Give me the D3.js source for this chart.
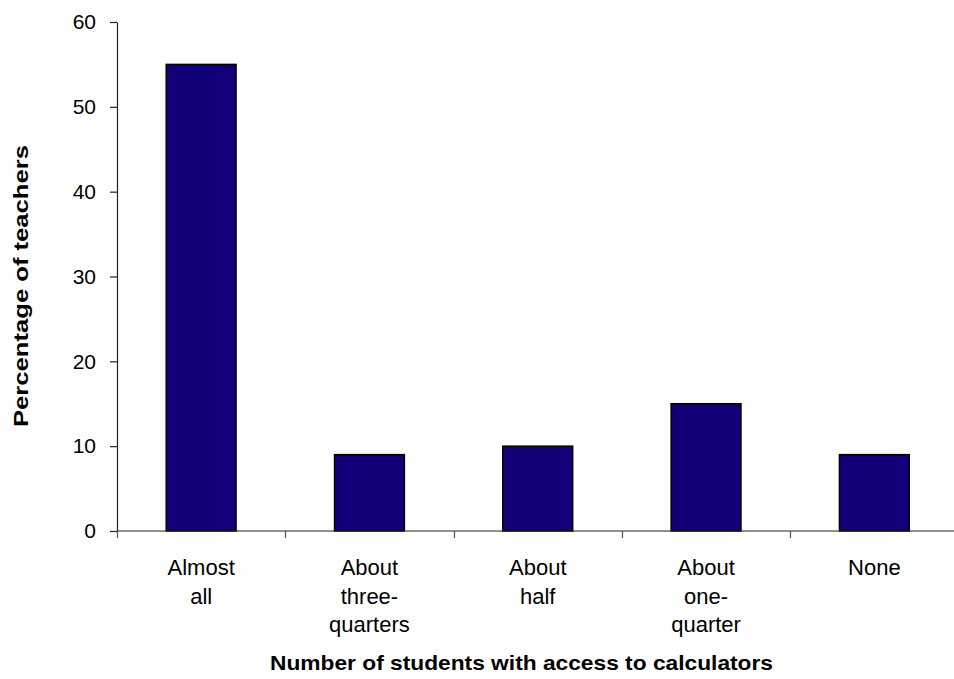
<!DOCTYPE html>
<html>
<head>
<meta charset="utf-8">
<script src="https://cdn.jsdelivr.net/npm/d3@7"></script>
<style>
  html, body { margin: 0; padding: 0; background: #fff; overflow: hidden; }
  svg { display: block; font-family: Arial, "Liberation Sans", Helvetica, sans-serif; }
</style>
</head>
<body>
<svg id="chart" width="954" height="679"></svg>
<script>
// Share of teachers by how many of their students have access to calculators
const categories = ["Almost all", "About three-quarters", "About half", "About one-quarter", "None"];
const categoryLines = [["Almost", "all"], ["About", "three-", "quarters"], ["About", "half"], ["About", "one-", "quarter"], ["None"]];
const percentages = [55, 9, 10, 15, 9];
const yTicks = [0, 10, 20, 30, 40, 50, 60];
const yTitle = "Percentage of teachers";
const xTitle = "Number of students with access to calculators";

const svg = d3.select("#chart");

const plotLeft = 117, plotRight = 958.5, plotTop = 22, plotBottom = 531;

const y = d3.scaleLinear().domain([0, 60]).range([plotBottom, plotTop]);

// bars sit centred in equal slots; slot edges carry the x-axis ticks
const x = d3.scaleBand().domain(categories).range([plotLeft, plotRight])
  .paddingInner(0.585).paddingOuter(0.2925);
const slots = d3.scaleBand().domain(categories).range([plotLeft, plotRight]).padding(0);

// bars
svg.append("g").selectAll("rect")
  .data(categories)
  .join("rect")
  .attr("x", d => x(d))
  .attr("width", x.bandwidth())
  .attr("y", (d, i) => y(percentages[i]))
  .attr("height", (d, i) => y(0) - y(percentages[i]))
  .attr("fill", "#12007a")
  .attr("stroke", "#000")
  .attr("stroke-width", 1.5);

// y axis
const yAxis = svg.append("g")
  .attr("transform", `translate(${plotLeft},0)`)
  .call(d3.axisLeft(y).tickValues(yTicks).tickSize(7).tickPadding(14).tickSizeOuter(0));
yAxis.select(".domain").attr("stroke", "#222").attr("stroke-width", 1.2);
yAxis.selectAll(".tick line").attr("stroke", "#222").attr("stroke-width", 1.2);
yAxis.selectAll(".tick text")
  .attr("font-size", 21)
  .attr("font-family", "Arial, 'Liberation Sans', sans-serif")
  .attr("fill", "#000");

// x axis baseline running to the right edge
svg.append("line")
  .attr("x1", plotLeft).attr("x2", 954)
  .attr("y1", y(0)).attr("y2", y(0))
  .attr("stroke", "#222").attr("stroke-width", 1.2);

// slot boundary ticks
svg.append("g").selectAll("line")
  .data(categories)
  .join("line")
  .attr("x1", d => Math.round(slots(d)) + 0.5)
  .attr("x2", d => Math.round(slots(d)) + 0.5)
  .attr("y1", y(0)).attr("y2", y(0) + 7)
  .attr("stroke", "#555").attr("stroke-width", 1.2);

// category labels (multi-line, centred in each slot)
const labels = svg.append("g").selectAll("text")
  .data(categories)
  .join("text")
  .attr("text-anchor", "middle")
  .attr("font-size", 22)
  .attr("fill", "#000")
  .attr("x", d => x(d) + x.bandwidth() / 2)
  .attr("y", 575);
labels.each(function (d, i) {
  d3.select(this).selectAll("tspan")
    .data(categoryLines[i])
    .join("tspan")
    .attr("x", x(d) + x.bandwidth() / 2)
    .attr("dy", (t, j) => j === 0 ? 0 : 28.5)
    .text(t => t);
});

// axis titles
svg.append("text")
  .attr("transform", "translate(28,286) rotate(-90)")
  .attr("text-anchor", "middle")
  .attr("font-size", 21)
  .attr("font-weight", "bold")
  .attr("textLength", 282)
  .attr("lengthAdjust", "spacingAndGlyphs")
  .attr("fill", "#000")
  .text(yTitle);

svg.append("text")
  .attr("x", 521.5)
  .attr("y", 670)
  .attr("text-anchor", "middle")
  .attr("font-size", 21)
  .attr("font-weight", "bold")
  .attr("textLength", 503)
  .attr("lengthAdjust", "spacingAndGlyphs")
  .attr("fill", "#000")
  .text(xTitle);
</script>
</body>
</html>
